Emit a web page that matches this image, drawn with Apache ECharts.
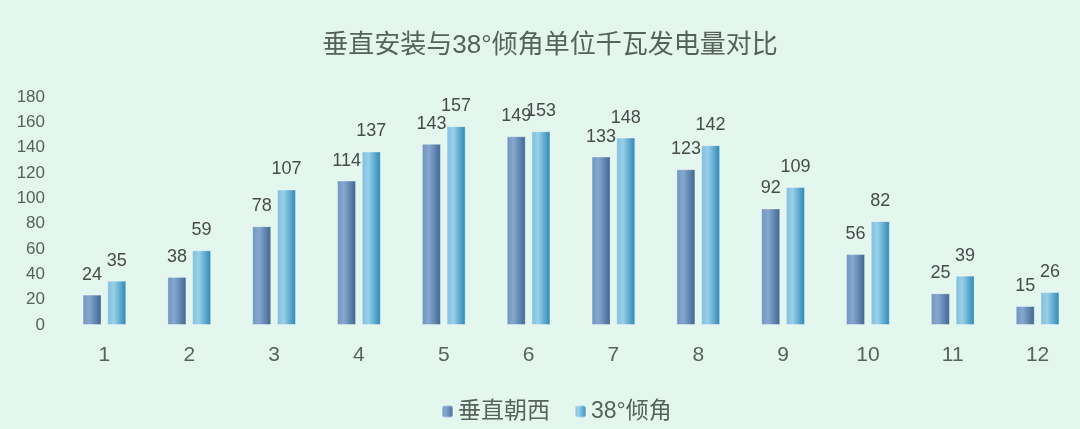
<!DOCTYPE html>
<html style="height: 100%">
<head>
<meta charset="utf-8">
</head>
<body style="height: 100%; margin: 0; background: #e4f7ee">
<div id="container" style="width: 1080px; height: 429px"></div>
<script src="https://cdn.jsdelivr.net/npm/echarts@6/dist/echarts.min.js"></script>
<script type="text/javascript">
var months = ['1', '2', '3', '4', '5', '6', '7', '8', '9', '10', '11', '12'];
var verticalWest = [24, 38, 78, 114, 143, 149, 133, 123, 92, 56, 25, 15];
var tilt38 = [35, 59, 107, 137, 157, 153, 148, 142, 109, 82, 39, 26];

var textColor = '#56625c';
var font = '"Liberation Sans", "Noto Sans CJK SC", sans-serif';

function grad(c0, c1, c2) {
    return new echarts.graphic.LinearGradient(0, 0, 1, 0, [
        { offset: 0, color: c0 },
        { offset: 0.35, color: c1 },
        { offset: 1, color: c2 }
    ]);
}

var myChart = echarts.init(document.getElementById('container'));

var labelStyle = {
    show: true,
    position: 'top',
    distance: 11,
    color: '#464c49',
    fontSize: 18,
    fontFamily: font
};

var option = {
    backgroundColor: '#e4f7ee',
    animation: false,
    title: {
        text: '垂直安装与38°倾角单位千瓦发电量对比',
        left: 545,
        textAlign: 'center',
        top: 28,
        textStyle: { color: textColor, fontSize: 26, fontWeight: 'normal', fontFamily: font }
    },
    legend: {
        top: 395,
        left: 436,
        itemWidth: 11,
        itemHeight: 12,
        itemGap: 24,
        textStyle: { color: textColor, fontSize: 23, fontFamily: font },
        data: ['垂直朝西', '38°倾角']
    },
    grid: { left: 62, width: 1020, top: 97, bottom: 104 },
    xAxis: {
        type: 'category',
        data: months,
        axisLine: { show: false },
        axisTick: { show: false },
        axisLabel: { color: textColor, fontSize: 21, margin: 20, fontFamily: font }
    },
    yAxis: {
        type: 'value',
        min: 0,
        max: 180,
        interval: 20,
        splitLine: { show: false },
        axisLine: { show: false },
        axisLabel: { color: textColor, fontSize: 17, margin: 17, fontFamily: font }
    },
    series: [
        {
            name: '垂直朝西',
            type: 'bar',
            data: verticalWest,
            barWidth: 19,
            barGap: '30%',
            itemStyle: {
                color: grad('#6f93bd', '#86a8cf', '#3d6590'),
                borderColor: 'rgba(255,255,255,0.35)',
                borderWidth: 1
            },
            label: labelStyle
        },
        {
            name: '38°倾角',
            type: 'bar',
            data: tilt38,
            barWidth: 19,
            itemStyle: {
                color: grad('#7fbedd', '#98d0e8', '#2a86b5'),
                borderColor: 'rgba(255,255,255,0.35)',
                borderWidth: 1
            },
            label: labelStyle
        }
    ]
};

myChart.setOption(option);
</script>
</body>
</html>
